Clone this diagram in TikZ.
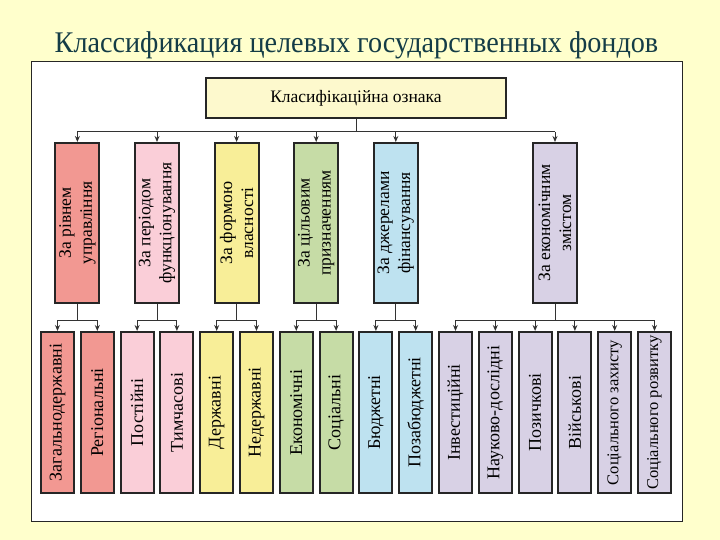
\documentclass[tikz,border=0pt]{standalone}
\usepackage{fontspec}
\setmainfont{Liberation Serif}
\usetikzlibrary{arrows.meta}
\definecolor{bg}{RGB}{255,255,204}
\definecolor{titlec}{RGB}{20,60,70}
\definecolor{topc}{RGB}{253,249,205}
\definecolor{redc}{RGB}{242,152,146}
\definecolor{pinkc}{RGB}{250,206,216}
\definecolor{yelc}{RGB}{248,238,152}
\definecolor{grnc}{RGB}{198,220,166}
\definecolor{bluc}{RGB}{190,226,240}
\definecolor{lavc}{RGB}{216,209,229}
\begin{document}
\begin{tikzpicture}[x=1pt,y=-1pt,
  boxbase/.style={draw=black!85,line width=2pt,inner sep=0pt},
  catbox/.style={boxbase,rotate=90,minimum width=160pt,minimum height=44pt,align=center,font=\fontsize{17.5}{21}\selectfont},
  leafbox/.style={boxbase,rotate=90,minimum width=161pt,minimum height=33pt,font=\fontsize{18}{20}\selectfont},
  longleaf/.style={leafbox,font=\fontsize{16.5}{20}\selectfont},
  conn/.style={line width=1pt,draw=black!80},
  arr/.style={conn,-{Stealth[length=6pt,width=5pt]}}]
\useasboundingbox (0,0) rectangle (720,540);
\fill[bg] (0,0) rectangle (720,540);
\node[anchor=base,text=titlec,font=\fontsize{30}{36}\selectfont,inner sep=0pt] (title) at (356.5,53) {\scalebox{0.94}[1]{Классификация целевых государственных фондов}};
\draw[fill=white,draw=black!85,line width=1pt] (31,62) rectangle (682,521);

\node[boxbase,fill=topc,minimum width=300pt,minimum height=40pt,font=\fontsize{17.5}{20}\selectfont] (T) at (356,98.5) {Класифікаційна ознака};

\node[catbox,fill=redc]  (c1) at (77.4,223)  {За рівнем\\управління};
\node[catbox,fill=pinkc] (c2) at (157,223)   {За періодом\\функціонування};
\node[catbox,fill=yelc]  (c3) at (236.6,223) {За формою\\власності};
\node[catbox,fill=grnc]  (c4) at (316.2,223) {За цільовим\\призначенням};
\node[catbox,fill=bluc]  (c5) at (395.8,223) {За джерелами\\фінансування};
\node[catbox,fill=lavc]  (c6) at (555,223)   {За економічним\\змістом};

\node[leafbox,fill=redc]  (l1)  at (57.5,412.5)  {Загальнодержавні};
\node[leafbox,fill=redc]  (l2)  at (97.3,412.5)  {Регіональні};
\node[leafbox,fill=pinkc] (l3)  at (137.1,412.5) {Постійні};
\node[leafbox,fill=pinkc] (l4)  at (176.9,412.5) {Тимчасові};
\node[leafbox,fill=yelc]  (l5)  at (216.7,412.5) {Державні};
\node[leafbox,fill=yelc]  (l6)  at (256.5,412.5) {Недержавні};
\node[leafbox,fill=grnc]  (l7)  at (296.3,412.5) {Економічні};
\node[leafbox,fill=grnc]  (l8)  at (336.1,412.5) {Соціальні};
\node[leafbox,fill=bluc]  (l9)  at (375.9,412.5) {Бюджетні};
\node[leafbox,fill=bluc]  (l10) at (415.7,412.5) {Позабюджетні};
\node[leafbox,fill=lavc]  (l11) at (455.5,412.5) {Інвестиційні};
\node[leafbox,fill=lavc]  (l12) at (495.3,412.5) {Науково-дослідні};
\node[leafbox,fill=lavc]  (l13) at (535.1,412.5) {Позичкові};
\node[leafbox,fill=lavc]  (l14) at (574.9,412.5) {Військові};
\node[longleaf,fill=lavc] (l15) at (614.7,412.5) {Соціального захисту};
\node[longleaf,fill=lavc] (l16) at (654.5,412.5) {Соціального розвитку};

\coordinate (bus) at (0,132);
\coordinate (lbus) at (0,320);

\draw[conn] (T.south) -- (T.south |- bus);
\draw[conn] (c1.east |- bus) -- (c6.east |- bus);
\foreach \c in {c1,c2,c3,c4,c5,c6}
  \draw[arr] (\c.east |- bus) -- (\c.east);

\foreach \c/\a/\b in {c1/l1/l2,c2/l3/l4,c3/l5/l6,c4/l7/l8,c5/l9/l10,c6/l11/l16}{
  \draw[conn] (\c.west) -- (\c.west |- lbus);
  \draw[conn] (\a.east |- lbus) -- (\b.east |- lbus);
}
\foreach \l in {l1,l2,l3,l4,l5,l6,l7,l8,l9,l10,l11,l12,l13,l14,l15,l16}
  \draw[arr] (\l.east |- lbus) -- (\l.east);
\end{tikzpicture}
\end{document}
